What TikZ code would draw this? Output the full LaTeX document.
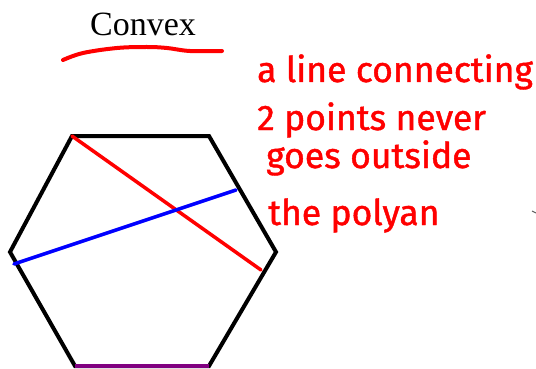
\documentclass[tikz,border=0pt]{standalone}
\usepackage{fontspec}
\setmainfont{Liberation Serif}
\newfontfamily\handfont[FakeBold=1.2]{Fira Sans}
\definecolor{pred}{RGB}{255,0,0}
\definecolor{pblue}{RGB}{0,0,255}
\definecolor{ppurple}{RGB}{128,0,128}
\begin{document}
\begin{tikzpicture}[x=1pt,y=-1pt,
  edge/.style={line width=4pt,black,line join=miter},
  chord/.style={line width=3.5pt,line cap=round},
  hand/.style={anchor=base west,inner sep=0pt,text=pred,font=\handfont\fontsize{35.5}{38}\selectfont}]
\useasboundingbox (0,0) rectangle (536,369);
% hexagon
\coordinate (a) at (72,136);
\coordinate (b) at (209,136);
\coordinate (c) at (276,252);
\coordinate (d) at (209,366);
\coordinate (e) at (75,366);
\coordinate (f) at (10,252);
\draw[edge] (a) -- (b) -- (c) -- (d) -- (e) -- (f) -- cycle;
\draw[line width=4pt,ppurple] (e) -- (d);
% chords
\coordinate (r1) at (72,136);
\coordinate (r2) at (261,270);
\coordinate (b1) at (14,264);
\coordinate (b2) at (236,190);
\draw[chord,pred] (r1) -- (r2);
\draw[chord,pblue] (b1) -- (b2);
% title
\node[anchor=base,inner sep=0pt,font=\fontsize{34}{36}\selectfont] (title) at (143,36) {Convex};
\coordinate (u1) at (63,60);
\coordinate (u2) at (222,51);
\draw[pred,line width=4pt,line cap=round] plot[smooth,tension=0.6] coordinates {(63,60) (83,53) (117,48) (147,47) (167,48) (190,51) (222,51)};
% handwritten note
\node[hand] (l1) at (257,82) {a line connecting};
\node[hand] (l2) at (257,130) {2 points never};
\node[hand] (l3) at (266,168) {goes outside};
\node[hand] (l4) at (268,225) {the polyan};
% tiny mark
\coordinate (m1) at (532,211);
\coordinate (m2) at (536,213);
\draw[gray!70!black,line width=1pt] (m1) -- (m2);
\end{tikzpicture}
\end{document}
